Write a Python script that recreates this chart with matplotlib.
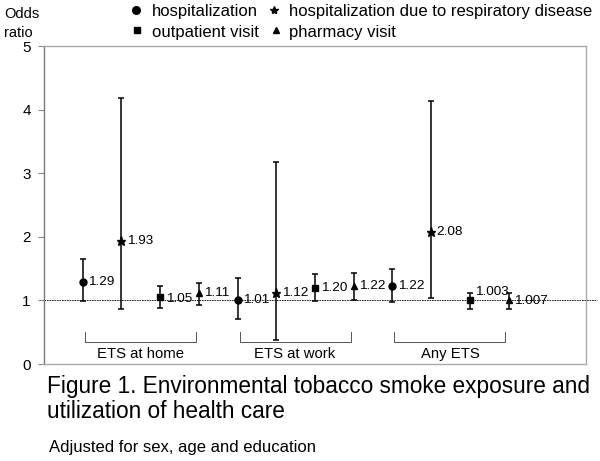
import matplotlib
matplotlib.use("Agg")
import matplotlib.pyplot as plt
import numpy as np

plt.rcParams['font.family'] = ['Liberation Sans', 'DejaVu Sans']

# exposure groups and outcome types
exposures = ["ETS at home", "ETS at work", "Any ETS"]
outcomes = ["hospitalization", "hospitalization due to respiratory disease",
            "outpatient visit", "pharmacy visit"]
markers = ['o', '*', 's', '^']
marker_sizes = [5, 6.5, 5, 5]

# odds ratios per outcome, one value per exposure group
or_values = {
    "hospitalization": [1.29, 1.01, 1.22],
    "hospitalization due to respiratory disease": [1.93, 1.12, 2.08],
    "outpatient visit": [1.05, 1.20, 1.003],
    "pharmacy visit": [1.11, 1.22, 1.007],
}
or_labels = {
    "hospitalization": ["1.29", "1.01", "1.22"],
    "hospitalization due to respiratory disease": ["1.93", "1.12", "2.08"],
    "outpatient visit": ["1.05", "1.20", "1.003"],
    "pharmacy visit": ["1.11", "1.22", "1.007"],
}
ci_low = {
    "hospitalization": [0.99, 0.71, 0.97],
    "hospitalization due to respiratory disease": [0.87, 0.37, 1.03],
    "outpatient visit": [0.88, 0.99, 0.86],
    "pharmacy visit": [0.93, 1.00, 0.87],
}
ci_high = {
    "hospitalization": [1.65, 1.36, 1.49],
    "hospitalization due to respiratory disease": [4.18, 3.18, 4.14],
    "outpatient visit": [1.22, 1.42, 1.12],
    "pharmacy visit": [1.28, 1.43, 1.11],
}

fig = plt.figure(figsize=(6, 4.61), dpi=100)
ax = fig.add_axes([0.0733, 0.2104, 0.9034, 0.6898])

for j, name in enumerate(outcomes):
    xs = np.arange(len(exposures)) * 4 + j + 1
    ys = np.array(or_values[name])
    lo = ys - np.array(ci_low[name])
    hi = np.array(ci_high[name]) - ys
    ax.errorbar(xs, ys, yerr=[lo, hi], fmt=markers[j], color='black',
                markersize=marker_sizes[j], ecolor='black', elinewidth=1.1,
                capsize=2, capthick=1.1, zorder=3)
    for x, y, lab in zip(xs, ys, or_labels[name]):
        dy = 6 if lab == "1.003" else (-1 if lab in ("1.05", "1.007") else 0)
        ax.annotate(lab, (x, y), xytext=(4, dy), textcoords='offset points',
                    ha='left', va='center', fontsize=9.7, zorder=4)

# reference line at OR = 1
ax.axhline(1, xmin=0, xmax=1.02, color='black', lw=0.6, ls=(0, (2, 1)),
           clip_on=False, zorder=1)

# group brackets
for i, name in enumerate(exposures):
    x0 = i * 4 + 1.05
    x1 = i * 4 + 3.92
    ax.plot([x0, x0, x1, x1], [0.51, 0.35, 0.35, 0.51], color='#555555',
            lw=0.7, zorder=2)
    ax.text((x0 + x1) / 2, 0.15, name, ha='center', va='center', fontsize=10.7)

ax.set_xlim(0, 14)
ax.set_ylim(0, 5)
ax.set_xticks([])
ax.set_yticks([0, 1, 2, 3, 4, 5])
ax.tick_params(axis='y', length=4, width=0.8, color='#888888', labelsize=11, pad=5.5)
for s in ax.spines.values():
    s.set_color('#aaaaaa')
    s.set_linewidth(1.0)
ax.spines['left'].set_color('#777777')

# y label above the axis
fig.text(0.007, 0.97, "Odds", fontsize=10.5, ha='left', va='center')
fig.text(0.007, 0.928, "ratio", fontsize=10.5, ha='left', va='center')

# legend drawn by hand
leg_marker_x = [0.227, 0.457, 0.228, 0.46]
leg_text_x = [0.253, 0.482, 0.253, 0.482]
leg_y = [0.975, 0.975, 0.93, 0.93]
leg_ms = [5.5, 6, 5, 5]
for j, name in enumerate(outcomes):
    ax.plot([leg_marker_x[j]], [leg_y[j] + 0.004], marker=markers[j], color='black',
            markersize=leg_ms[j], transform=fig.transFigure, clip_on=False)
    fig.text(leg_text_x[j], leg_y[j], name, fontsize=12, ha='left', va='center')

fig.text(0.078, 0.162, "Figure 1. Environmental tobacco smoke exposure and",
         fontsize=16.3, ha='left', va='center')
fig.text(0.078, 0.108, "utilization of health care",
         fontsize=16.3, ha='left', va='center')
fig.text(0.082, 0.03, "Adjusted for sex, age and education",
         fontsize=12, ha='left', va='center')

fig.savefig('out.png', dpi=100)
